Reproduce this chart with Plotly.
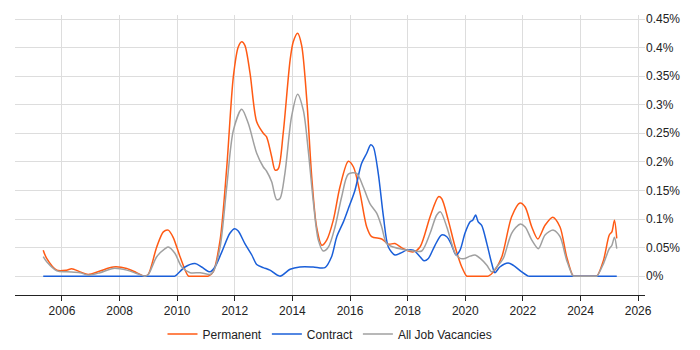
import plotly.graph_objects as go

perm_x = [2005.35, 2005.47, 2005.82, 2006.16, 2006.34, 2006.63, 2006.91, 2007.32, 2007.78, 2008.25,
          2008.59, 2008.88, 2009.0, 2009.29, 2009.52, 2009.69, 2009.86, 2010.1, 2010.39, 2010.5,
          2010.97, 2011.08,
          2011.25, 2011.49, 2011.72, 2011.95, 2012.12, 2012.24, 2012.35, 2012.53, 2012.76, 2012.99,
          2013.1, 2013.28, 2013.4, 2013.51, 2013.68, 2013.92, 2014.03, 2014.18, 2014.32, 2014.5,
          2014.67, 2014.84, 2015.02, 2015.19, 2015.42, 2015.65, 2015.94, 2016.12, 2016.35, 2016.58,
          2016.75, 2017.1, 2017.33, 2017.56, 2017.85, 2018.2, 2018.43, 2018.78, 2019.07, 2019.18,
          2019.41, 2019.65, 2019.88, 2020.05, 2020.15, 2020.7, 2020.8, 2020.98, 2021.27, 2021.61,
          2021.9, 2022.08, 2022.31, 2022.52, 2022.77, 2023.04, 2023.29, 2023.52, 2023.75, 2023.85,
          2024.47, 2024.57, 2024.8, 2025.0, 2025.09, 2025.18, 2025.26]
perm_y = [0.0455, 0.031, 0.0105, 0.0105, 0.013, 0.0075, 0.003, 0.009, 0.016, 0.0135,
          0.006, 0.0, 0.0035, 0.051, 0.0775, 0.0805, 0.068, 0.034, 0.0, 0.0,
          0.0, 0.0,
          0.0075, 0.063, 0.19, 0.349, 0.401, 0.41, 0.404, 0.355, 0.27, 0.25,
          0.244, 0.209, 0.1855, 0.188, 0.25, 0.378, 0.41, 0.425, 0.404, 0.308,
          0.174, 0.086, 0.054, 0.063, 0.098, 0.156, 0.201, 0.191, 0.145, 0.086,
          0.069, 0.065, 0.056, 0.057, 0.048, 0.0425, 0.051, 0.104, 0.139, 0.136,
          0.098, 0.051, 0.016, 0.0, 0.0, 0.0, 0.0, 0.0075, 0.034, 0.104,
          0.128, 0.121, 0.086, 0.065, 0.089, 0.103, 0.086, 0.034, 0.0, 0.0,
          0.0, 0.0, 0.028, 0.072, 0.0775, 0.098, 0.066]

cont_x = [2005.35, 2009.8, 2009.92, 2010.27, 2010.62, 2010.85, 2011.14, 2011.31, 2011.55, 2011.83,
          2012.0, 2012.12, 2012.35, 2012.59, 2012.76, 2012.99, 2013.22, 2013.57, 2013.92, 2014.26,
          2014.72, 2015.13, 2015.36, 2015.54, 2015.77, 2015.94, 2016.17, 2016.4, 2016.58, 2016.72,
          2016.81, 2016.98, 2017.16, 2017.33, 2017.56, 2017.74, 2017.97, 2018.2, 2018.43, 2018.57,
          2018.72, 2018.95, 2019.18, 2019.36, 2019.53, 2019.68, 2019.82, 2019.99, 2020.17, 2020.26,
          2020.36, 2020.45, 2020.57, 2020.75, 2020.92, 2021.03, 2021.2, 2021.49, 2021.67, 2021.96,
          2022.19, 2022.3, 2025.26]
cont_y = [0.0, 0.0, 0.0, 0.016, 0.022, 0.016, 0.0075, 0.016, 0.0425, 0.075,
          0.083, 0.079, 0.057, 0.037, 0.0205, 0.015, 0.0105, 0.0, 0.012, 0.016,
          0.016, 0.015, 0.034, 0.069, 0.095, 0.118, 0.15, 0.197, 0.215, 0.23,
          0.226, 0.18, 0.104, 0.051, 0.037, 0.04, 0.0455, 0.0455, 0.034, 0.027,
          0.031, 0.054, 0.072, 0.069, 0.054, 0.037, 0.0455, 0.075, 0.095, 0.098,
          0.107, 0.095, 0.089, 0.057, 0.022, 0.006, 0.016, 0.023, 0.019, 0.0075,
          0.0, 0.0, 0.0]

all_x = [2005.35, 2005.47, 2005.82, 2006.16, 2006.63, 2006.91, 2007.32, 2007.78, 2008.25, 2008.59,
         2008.88, 2009.0, 2009.29, 2009.58, 2009.69, 2009.92, 2010.16, 2010.45, 2010.8, 2011.14,
         2011.25, 2011.49, 2011.72, 2011.95, 2012.24, 2012.47, 2012.76, 2012.99, 2013.1, 2013.28,
         2013.45, 2013.57, 2013.74, 2013.97, 2014.18, 2014.38, 2014.55, 2014.72, 2014.9, 2015.07,
         2015.25, 2015.48, 2015.71, 2015.94, 2016.23, 2016.46, 2016.69, 2016.93, 2017.1, 2017.27,
         2017.5, 2017.85, 2018.2, 2018.49, 2018.78, 2019.01, 2019.14, 2019.36, 2019.53, 2019.65,
         2019.82, 2019.99, 2020.17, 2020.34, 2020.52, 2020.75, 2020.92, 2021.09, 2021.32, 2021.61,
         2021.9, 2022.08, 2022.31, 2022.54, 2022.77, 2023.06, 2023.29, 2023.52, 2023.75, 2023.85,
         2024.47, 2024.57, 2024.8, 2025.0, 2025.09, 2025.18, 2025.26]
all_y = [0.034, 0.025, 0.0093, 0.0075, 0.006, 0.0018, 0.006, 0.0135, 0.0105, 0.0047,
         0.0, 0.003, 0.034, 0.048, 0.051, 0.04, 0.016, 0.006, 0.006, 0.003,
         0.0075, 0.051, 0.156, 0.255, 0.292, 0.267, 0.215, 0.191, 0.184, 0.165,
         0.134, 0.136, 0.18, 0.279, 0.3185, 0.29, 0.22, 0.133, 0.063, 0.044,
         0.051, 0.086, 0.139, 0.1785, 0.18, 0.156, 0.127, 0.11, 0.086, 0.057,
         0.051, 0.0467, 0.044, 0.044, 0.075, 0.107, 0.1125, 0.086, 0.057, 0.04,
         0.031, 0.031, 0.035, 0.037, 0.031, 0.019, 0.0075, 0.016, 0.031, 0.075,
         0.091, 0.086, 0.063, 0.048, 0.072, 0.0805, 0.069, 0.028, 0.0, 0.0,
         0.0, 0.0, 0.022, 0.048, 0.054, 0.068, 0.048]

x_tick_vals = [2006, 2008, 2010, 2012, 2014, 2016, 2018, 2020, 2022, 2024, 2026]
y_tick_vals = [0, 0.05, 0.1, 0.15, 0.2, 0.25, 0.3, 0.35, 0.4, 0.45]
y_tick_text = ["0%", "0.05%", "0.1%", "0.15%", "0.2%", "0.25%", "0.3%", "0.35%", "0.4%", "0.45%"]

fig = go.Figure()
fig.add_trace(go.Scatter(x=perm_x, y=perm_y, name="Permanent", mode="lines",
                         line=dict(color="#ff5a14", width=1.5, shape="spline", smoothing=0.8)))
fig.add_trace(go.Scatter(x=cont_x, y=cont_y, name="Contract", mode="lines",
                         line=dict(color="#1a5fd9", width=1.5, shape="spline", smoothing=0.8)))
fig.add_trace(go.Scatter(x=all_x, y=all_y, name="All Job Vacancies", mode="lines",
                         line=dict(color="#a0a0a0", width=1.5, shape="spline", smoothing=0.8)))

font = dict(family="Liberation Sans, Arial, sans-serif", size=12, color="#222222")
fig.update_layout(
    width=684, height=334,
    margin=dict(l=7, r=47, t=7, b=47, autoexpand=False),
    paper_bgcolor="white", plot_bgcolor="white",
    font=font,
    showlegend=True,
    legend=dict(orientation="h", x=0.5, xanchor="center", xref="paper",
                y=0.024, yanchor="middle", yref="container",
                font=font, itemwidth=30, traceorder="normal"),
    xaxis=dict(range=[2004.37, 2026.24], tickvals=x_tick_vals, showgrid=True,
               gridcolor="#dddddd", gridwidth=1, showline=True, linecolor="#222222", linewidth=1,
               ticks="outside", ticklen=5, tickcolor="#222222", zeroline=False, fixedrange=True),
    yaxis=dict(range=[-0.033, 0.457], side="right", tickvals=y_tick_vals, ticktext=y_tick_text,
               showgrid=True, gridcolor="#dddddd", gridwidth=1, zeroline=False, showline=False,
               ticks="", fixedrange=True),
)

fig.write_html("out.html")
